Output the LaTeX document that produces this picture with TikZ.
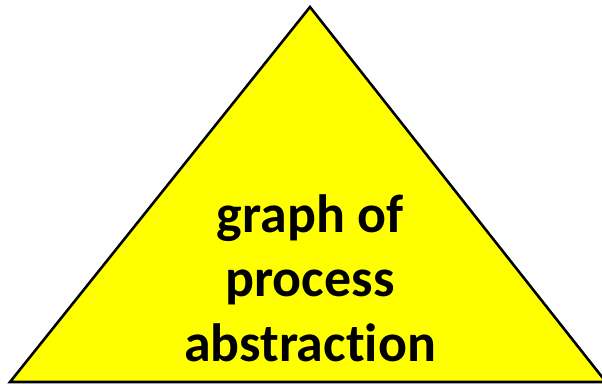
\documentclass[tikz,border=0pt]{standalone}
\usepackage{fontspec}
\setmainfont[RawFeature=-liga]{Carlito}
\usetikzlibrary{positioning}
\definecolor{BrightYellow}{rgb}{1, 1, 0}

\begin{document}
\begin{tikzpicture}[
    x=0.03cm, y=-0.03cm,
    pyramid/.style={draw=black, line width=2.2pt, fill=BrightYellow, line join=miter},
    label/.style={align=center, font=\fontsize{46}{55}\selectfont\bfseries, text=black},
]
\useasboundingbox (0,0) rectangle (602,384);

% --- corners ---
\coordinate (apex) at (310,7);
\coordinate (left) at (10,382);
\coordinate (right) at (606,382);

\draw[pyramid] (left) -- (apex) -- (right) -- cycle;

% --- text ---
\node[label] (txt) at (310,278) {graph of\\ process\\ abstraction};

\end{tikzpicture}
\end{document}
